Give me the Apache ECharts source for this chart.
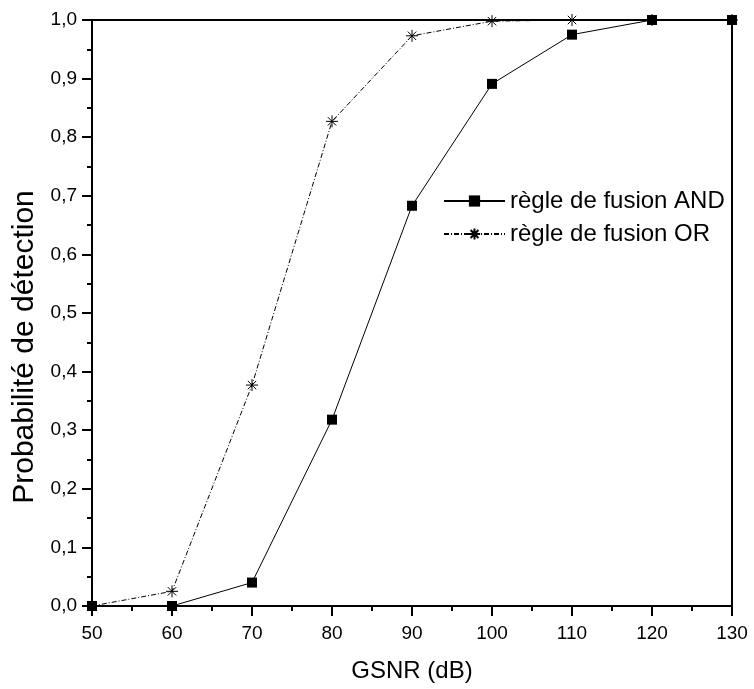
<!DOCTYPE html>
<html><head><meta charset="utf-8">
<script src="https://cdn.jsdelivr.net/npm/echarts@6/dist/echarts.min.js"></script>
<style>html,body{margin:0;padding:0;background:#fff}#c{width:754px;height:689px}</style>
</head><body><div id="c"></div>
<script>
const gsnr = [50, 60, 70, 80, 90, 100, 110, 120, 130];
const andValues = [0, 0, 0.04, 0.318, 0.683, 0.891, 0.975, 1.0, 1.0];
const orValues = [0, 0.025, 0.377, 0.827, 0.973, 0.998, 1.0, 1.0, 1.0];
const seriesNames = ['règle de fusion AND', 'règle de fusion OR'];
const xName = 'GSNR (dB)';
const yName = 'Probabilité de détection';

const font = '"Liberation Sans", Arial, sans-serif';
const star = 'path://M0,5L10,5M5,0L5,10M1.5,1.5L8.5,8.5M8.5,1.5L1.5,8.5';
const chart = echarts.init(document.getElementById('c'), null, {renderer: 'canvas'});
chart.setOption({
  animation: false,
  backgroundColor: '#fff',
  grid: {left: 92, right: 22, top: 20, bottom: 83, show: true, borderColor: '#000', borderWidth: 2, backgroundColor: 'transparent'},
  legend: {
    left: 438, top: 184, orient: 'vertical', itemWidth: 61, itemHeight: 14, itemGap: 9,
    textStyle: {fontFamily: font, fontSize: 24, color: '#000'},
    data: seriesNames
  },
  xAxis: {
    type: 'value', min: 50, max: 130, interval: 10,
    name: xName, nameLocation: 'middle', nameGap: 53,
    nameTextStyle: {fontFamily: font, fontSize: 24, color: '#000'},
    axisLine: {lineStyle: {color: '#000', width: 2}},
    axisTick: {show: true, inside: false, length: 10, lineStyle: {color: '#000', width: 2}},
    minorTick: {show: true, splitNumber: 2, length: 5, lineStyle: {color: '#000', width: 2}},
    axisLabel: {margin: 18, fontFamily: font, fontSize: 19, color: '#000'},
    splitLine: {show: false}
  },
  yAxis: {
    type: 'value', min: 0, max: 1, interval: 0.1,
    name: yName, nameLocation: 'middle', nameGap: 50, nameRotate: 90,
    nameTextStyle: {fontFamily: font, fontSize: 30, color: '#000', padding: [0, 68, 0, 0]},
    axisLine: {lineStyle: {color: '#000', width: 2}},
    axisTick: {show: true, inside: false, length: 10, lineStyle: {color: '#000', width: 2}},
    minorTick: {show: true, splitNumber: 2, length: 5, lineStyle: {color: '#000', width: 2}},
    axisLabel: {margin: 15, fontFamily: font, fontSize: 19, color: '#000',
      formatter: v => v.toFixed(1).replace('.', ',')},
    splitLine: {show: false}
  },
  series: [
    {
      name: seriesNames[0], type: 'line', clip: false,
      data: gsnr.map((x, i) => [x, andValues[i]]),
      symbol: 'rect', symbolSize: 10,
      lineStyle: {color: '#000', width: 1},
      itemStyle: {color: '#000'}
    },
    {
      name: seriesNames[1], type: 'line', clip: false,
      data: gsnr.map((x, i) => [x, orValues[i]]),
      symbol: star, symbolSize: 12, symbolKeepAspect: true,
      lineStyle: {color: '#000', width: 1, type: [5, 2, 1, 2]},
      itemStyle: {color: 'none', borderColor: '#000', borderWidth: 1}
    }
  ]
});
</script></body></html>
